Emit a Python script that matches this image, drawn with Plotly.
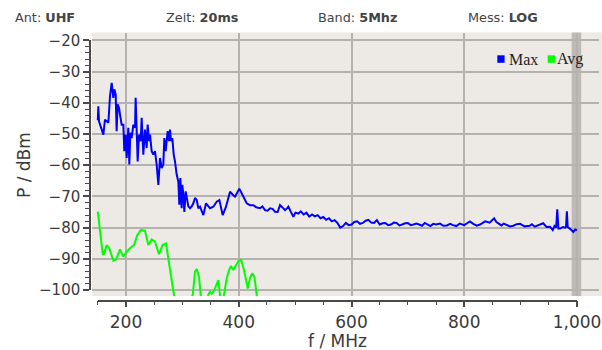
import plotly.graph_objects as go

W, H = 602, 350

# ---------------- data ----------------
max_freq = [150, 150.9, 152.1, 153.9, 156.8, 159.8, 162.7, 165.7, 168.7, 171.6, 174.6, 177.5,
            179.3, 181.7, 183.4, 185.2, 187.6, 189.4, 192.3, 195.3, 197.0, 199.4, 201.2, 204.1,
            205.9, 207.7, 210.1, 213.0, 216.0, 217.1, 218.9, 220.7, 223.1, 226.0, 227.8, 230.7,
            233.7, 236.7, 238.4, 240.8, 242.6, 245.5, 248.5, 251.4, 254.4, 257.4, 260.3, 263.3,
            266.2, 268.0, 270.4, 272.1, 273.9, 276.3, 278.1, 279.8, 282.2, 284.6, 286.9, 289.9,
            292.8, 294.6, 296.4, 298.7, 299.9, 301.7, 303.5, 305.8, 307.6, 310.6, 313.5, 316.5,
            319.4, 322.4, 325.4, 328.3, 331.3, 337.2, 342.0, 349.0, 354.9, 360.9, 365.6, 371.5,
            377.4, 384.5, 390.4, 393.4, 401.0, 408.2, 414.1, 420.0, 425.9, 431.0, 437.7, 442.0,
            446.6, 451.0, 455.5, 460.0, 464.3, 469.0, 473.2, 478.0, 482.1, 485.0, 488.0, 492.0,
            496.9, 500.5, 505.8, 510, 515, 520, 525, 530, 535, 540, 545, 550, 555, 560, 565, 570,
            575, 580, 585, 590, 595, 600, 605, 610, 615, 620, 625, 630, 635, 640, 645, 650, 655,
            660, 665, 670, 675, 680, 685, 690, 695, 700, 705, 710, 715, 720, 725, 730, 735, 740,
            745, 750, 757, 763, 769, 775, 780, 786, 792, 800, 805, 810, 816, 822, 828, 837, 845,
            853, 857, 866, 870, 875, 881, 887, 893, 899, 907, 916, 920, 925, 934, 940, 946, 952,
            957, 960, 963, 965, 967, 970, 975, 979, 980.5, 982, 983.5, 986, 990, 993.5, 997, 1000]
max_dbm = [-45.6, -41.1, -45.9, -47.0, -49.1, -50.2, -45.4, -45.9, -46.4, -37.9, -33.6, -38.4,
           -35.7, -37.3, -49.1, -40.5, -41.6, -43.8, -47.0, -47.0, -55.5, -50.2, -57.7, -48.0,
           -59.8, -49.6, -51.3, -47.0, -48.0, -38.4, -47.0, -58.8, -50.2, -52.3, -44.8, -56.6,
           -48.6, -54.5, -47.0, -52.3, -50.2, -55.5, -56.6, -55.5, -59.8, -66.3, -57.7, -60.9,
           -59.8, -51.3, -55.5, -51.3, -49.1, -52.3, -48.6, -52.3, -51.3, -56.6, -58.8, -63.0,
           -65.2, -72.7, -64.1, -73.8, -66.3, -69.5, -75.0, -68.4, -70.5, -73.2, -73.8, -73.2,
           -72.2, -70.5, -71.1, -73.8, -73.3, -76.0, -72.2, -73.8, -73.3, -71.7, -71.2, -76.0,
           -73.3, -68.5, -69.6, -70.1, -67.5, -70.1, -72.2, -72.8, -72.8, -73.5, -73.8, -73.2,
           -74.4, -74.6, -73.8, -74.0, -74.9, -75.0, -72.8, -73.6, -74.4, -74.0, -73.3, -74.8,
           -76.5, -75.2, -75.5, -74.8, -75.8, -75.2, -76.5, -75.8, -76.4, -76.0, -77.0, -76.6,
           -77.5, -77.0, -78.0, -77.6, -78.5, -80.0, -79.5, -78.5, -79.2, -79.0, -78.2, -78.0,
           -78.8, -78.5, -77.8, -77.5, -78.4, -78.5, -77.6, -79.0, -78.6, -78.5, -79.2, -79.0,
           -78.4, -78.5, -79.3, -79.0, -78.6, -78.5, -79.2, -79.0, -78.7, -79.0, -79.4, -78.5,
           -79.0, -79.5, -78.8, -79.0, -78.7, -79.4, -79.3, -78.8, -79.2, -79.5, -78.7, -79.2,
           -78.6, -78.0, -78.8, -79.4, -79.0, -78.0, -78.4, -77.0, -78.2, -79.3, -78.7, -79.0,
           -79.6, -79.4, -78.9, -78.8, -79.6, -79.4, -78.9, -79.7, -79.1, -78.6, -79.8, -79.7,
           -80.8, -79.5, -80.0, -74.1, -80.3, -80.3, -79.8, -80.0, -79.8, -74.8, -79.8, -80.3,
           -80.8, -81.4, -80.6, -80.8]

avg_freq = [150, 152.6, 158.7, 161.0, 165.8, 170.4, 177.5, 182.3, 189.4, 195.2, 201.2, 207.1,
            214.2, 220.0, 226.1, 233.7, 239.6, 245.6, 251.4, 258.5, 265.0, 270.9, 273.0, 279.3,
            285.1, 300.0, 318.4, 322.4, 325.4, 329.5, 332.5, 340.0, 346.0, 349.0, 352.0, 356.6,
            360.9, 363.7, 366.7, 370.0, 373.8, 378.6, 382.7, 386.2, 390.3, 395.1, 399.9, 404.5,
            409.3, 415.9, 420.0, 424.1, 427.7, 431.9, 436.0]
avg_dbm = [-74.9, -79.7, -88.5, -88.4, -85.6, -86.6, -90.6, -90.2, -87.0, -89.3, -87.7, -86.6,
           -85.6, -82.4, -80.8, -81.0, -85.6, -83.8, -84.5, -88.5, -85.6, -85.1, -87.7, -95.7,
           -101.6, -108.0, -101.6, -94.1, -93.3, -95.7, -101.6, -108.0, -101.6, -100.5, -101.2,
           -100.0, -97.7, -96.8, -101.6, -108.0, -101.6, -96.3, -93.6, -92.3, -93.6, -92.0,
           -90.6, -90.4, -93.6, -99.5, -96.2, -94.6, -95.7, -101.6, -108.0]

x_ticks = [200, 400, 600, 800, 1000]
y_ticks = [-20, -30, -40, -50, -60, -70, -80, -90, -100]

header_labels = ["Ant: ", "Zeit: ", "Band: ", "Mess: "]
header_values = ["UHF", "20ms", "5Mhz", "LOG"]
series_names = ["Max", "Avg"]
series_colors = ["#0000FF", "#00FF00"]

# ---------------- geometry helpers (pixels -> paper, margins are 0) ----------------
def px(x):
    return x / W

def py(y):
    return 1 - y / H

FONT = "DejaVu Sans"
TXT = "#3a3a3a"
AX = "#4a4a4a"

fig = go.Figure()

fig.add_trace(go.Scatter(x=max_freq, y=max_dbm, mode="lines", name=series_names[0],
                         line=dict(color=series_colors[0], width=2), showlegend=False,
                         xaxis="x", yaxis="y"))
fig.add_trace(go.Scatter(x=avg_freq, y=avg_dbm, mode="lines", name=series_names[1],
                         line=dict(color=series_colors[1], width=2), showlegend=False,
                         xaxis="x", yaxis="y"))
# anchor trace for the offset axis frame
fig.add_trace(go.Scatter(x=[x_ticks[0]], y=[y_ticks[-1]], mode="markers", marker=dict(opacity=0),
                         hoverinfo="skip", showlegend=False, xaxis="x2", yaxis="y2"))

fig.update_layout(
    width=W, height=H,
    autosize=False,
    margin=dict(l=0, r=0, t=0, b=0, pad=0, autoexpand=False),
    paper_bgcolor="white",
    plot_bgcolor="rgba(0,0,0,0)",
    font=dict(family=FONT, color=TXT),
    showlegend=False,
    separators=".,",
    xaxis=dict(domain=[px(92), px(599)], range=[139.69, 1039.0], showgrid=True,
               gridcolor="#b4b2af", gridwidth=1.5, tick0=0, dtick=200, showticklabels=False,
               ticks="", showline=False, zeroline=False, fixedrange=True, automargin=False),
    yaxis=dict(domain=[py(296), py(32.5)], range=[-101.92, -17.47], showgrid=True,
               gridcolor="#b4b2af", gridwidth=1.5, tick0=0, dtick=10, showticklabels=False,
               ticks="", showline=False, zeroline=False, fixedrange=True, automargin=False),
    xaxis2=dict(domain=[px(97.81), px(577)], range=[150, 1000], anchor="free",
                position=py(300.5), showgrid=False, zeroline=False, showline=True,
                linecolor=AX, linewidth=1.5, ticks="outside", ticklen=6, tickwidth=1.5,
                tickcolor=AX, tickvals=x_ticks, separatethousands=True, automargin=False,
                tickfont=dict(family=FONT, size=17, color=TXT),
                minor=dict(ticks="outside", ticklen=4, tickwidth=1.2, tickcolor=AX,
                           tick0=0, dtick=50, showgrid=False),
                fixedrange=True),
    yaxis2=dict(domain=[py(290), py(40.4)], range=[-100, -20], anchor="free",
                position=px(90), showgrid=False, zeroline=False, showline=True,
                linecolor=AX, linewidth=1.5, ticks="outside", ticklen=6, tickwidth=1.5,
                tickcolor=AX, tickvals=y_ticks, automargin=False,
                tickfont=dict(family=FONT, size=15, color=TXT),
                minor=dict(ticks="outside", ticklen=4, tickwidth=1.2, tickcolor=AX,
                           tick0=0, dtick=2, showgrid=False),
                fixedrange=True),
)

# plot background and the grey marker band
fig.add_shape(type="rect", xref="paper", yref="paper", x0=px(92), x1=px(602),
              y0=py(296), y1=py(32.5), fillcolor="#EDEAE6", line_width=0, layer="below")
fig.add_shape(type="rect", xref="x", yref="y domain", x0=990.5, x1=1007.5, y0=0, y1=1,
              fillcolor="#BEBBB7", line_width=0, layer="below")

# header
header_x = [13.3, 164, 316, 466]
for lab, val, hx in zip(header_labels, header_values, header_x):
    fig.add_annotation(text=f"{lab}<b>{val}</b>", xref="paper", yref="paper",
                       x=px(hx), y=py(17.3), xanchor="left", yanchor="middle",
                       showarrow=False, font=dict(family=FONT, size=12.8, color="#444444"))

# axis titles
fig.add_annotation(text="f / MHz", xref="paper", yref="paper", x=px(337.4), y=py(341),
                   xanchor="center", yanchor="middle", showarrow=False,
                   font=dict(family=FONT, size=17, color=TXT))
fig.add_annotation(text="P / dBm", xref="paper", yref="paper", x=px(24), y=py(165),
                   xanchor="center", yanchor="middle", textangle=-90, showarrow=False,
                   font=dict(family=FONT, size=17, color=TXT))

# legend (squares + serif labels)
leg = [(497.3, 508.3), (547.7, 556.7)]
for (sx, tx), name, col in zip(leg, series_names, series_colors):
    fig.add_shape(type="rect", xref="paper", yref="paper", x0=px(sx), x1=px(sx + 7.3),
                  y0=py(62.8), y1=py(55.3), fillcolor=col, line_width=0, layer="above")
    fig.add_annotation(text=name, xref="paper", yref="paper", x=px(tx - 1.5), y=py(59.3),
                       xanchor="left", yanchor="middle", showarrow=False,
                       font=dict(family="Liberation Serif", size=16, color="#222222"))

fig.write_html("out.html")
